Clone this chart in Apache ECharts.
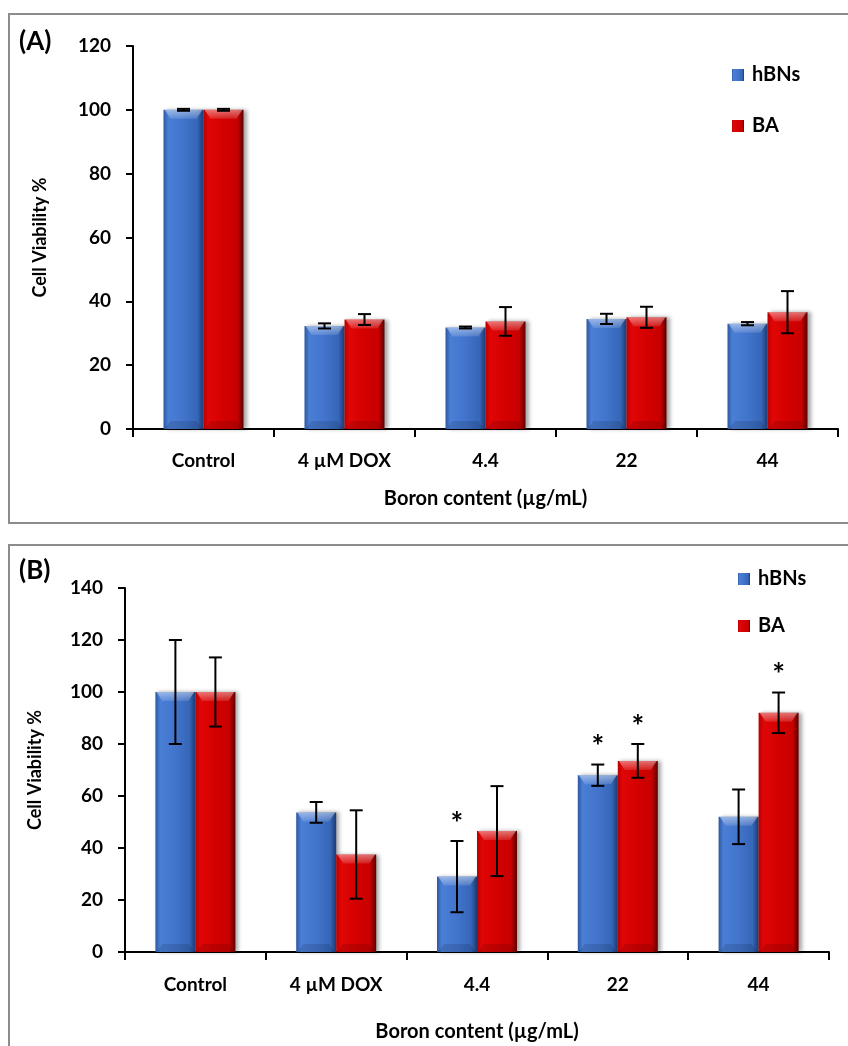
<!DOCTYPE html>
<html><head><meta charset="utf-8">
<script src="https://cdn.jsdelivr.net/npm/echarts@6/dist/echarts.min.js"></script>
<style>html,body{margin:0;padding:0;background:#fff}#c{width:848px;height:1046px}</style>
</head><body><div id="c"></div>
<script>
const categories = ['Control', '4 µM DOX', '4.4', '22', '44'];
const seriesNames = ['hBNs', 'BA'];

const A_hBNs = [100, 32.3, 31.8, 34.5, 33.0];
const A_hBNs_err = [0.3, 0.8, 0.3, 1.6, 0.5];
const A_BA = [100, 34.3, 33.7, 35.0, 36.6];
const A_BA_err = [0.3, 1.7, 4.5, 3.3, 6.6];

const B_hBNs = [100, 53.7, 29.0, 68.0, 52.0];
const B_hBNs_err = [20, 4.0, 13.7, 4.1, 10.5];
const B_BA = [100, 37.5, 46.5, 73.5, 92.0];
const B_BA_err = [13.3, 17.0, 17.3, 6.5, 7.8];
const B_hBNs_sig = [0, 0, 1, 1, 0];
const B_BA_sig = [0, 0, 0, 1, 1];

const FONT = 'Lato';
const BAR_W = 40;

const blueGrad = {type:'linear',x:0,y:0,x2:1,y2:0,colorStops:[
  {offset:0,color:'#2d58a0'},{offset:0.12,color:'#4a7fd6'},{offset:0.5,color:'#4274cc'},
  {offset:0.85,color:'#3566b8'},{offset:1,color:'#1c3a72'}]};
const redGrad = {type:'linear',x:0,y:0,x2:1,y2:0,colorStops:[
  {offset:0,color:'#b80000'},{offset:0.12,color:'#e00606'},{offset:0.5,color:'#d40000'},
  {offset:0.85,color:'#c80000'},{offset:1,color:'#5a0000'}]};
const colors = [blueGrad, redGrad];

function errData(vals, errs) { return vals.map((v, i) => [i, v, errs[i]]); }
function sigData(vals, errs, sig) { return vals.map((v, i) => sig[i] ? [i, v + errs[i]] : null).filter(d => d); }

function errSeries(gi, vals, errs, side) {
  return {
    type: 'custom', xAxisIndex: gi, yAxisIndex: gi, z: 10, silent: true,
    data: errData(vals, errs), encode: {x: 0, y: 1},
    renderItem: function (params, api) {
      const x = api.coord([api.value(0), 0])[0] + side * BAR_W / 2;
      const hi = api.coord([api.value(0), api.value(1) + api.value(2)])[1];
      const lo = api.coord([api.value(0), api.value(1) - api.value(2)])[1];
      const c = 6.5;
      const st = {stroke: '#000', lineWidth: 2};
      return {type: 'group', children: [
        {type: 'line', shape: {x1: x, y1: hi, x2: x, y2: lo}, style: st},
        {type: 'line', shape: {x1: x - c, y1: hi, x2: x + c, y2: hi}, style: st},
        {type: 'line', shape: {x1: x - c, y1: lo, x2: x + c, y2: lo}, style: st}
      ]};
    }
  };
}
function bevelSeries(gi, vals, side) {
  return {
    type: 'custom', xAxisIndex: gi, yAxisIndex: gi, z: 5, silent: true,
    data: vals.map((v, i) => [i, v]), encode: {x: 0, y: 1},
    renderItem: function (params, api) {
      const cx = api.coord([api.value(0), 0])[0] + side * BAR_W / 2;
      const top = api.coord([api.value(0), api.value(1)])[1];
      const base = api.coord([api.value(0), 0])[1];
      const l = cx - BAR_W / 2, r = cx + BAR_W / 2;
      return {type: 'group', children: [
        {type: 'polygon', shape: {points: [[l + 1, top], [r - 1, top], [r - 7, top + 9], [l + 7, top + 9]]},
         style: {fill: {type:'linear',x:0,y:0,x2:0,y2:1,colorStops:[
           {offset:0,color:'rgba(255,255,255,0.45)'},{offset:1,color:'rgba(255,255,255,0.12)'}]}}},
        {type: 'polygon', shape: {points: [[l + 1, base], [r - 1, base], [r - 7, base - 8], [l + 7, base - 8]]},
         style: {fill: 'rgba(0,0,0,0.12)'}}
      ]};
    }
  };
}
function sigSeries(gi, data, side) {
  return {
    type: 'custom', xAxisIndex: gi, yAxisIndex: gi, z: 11, silent: true,
    data: data, encode: {x: 0, y: 1},
    renderItem: function (params, api) {
      const p = api.coord([api.value(0), api.value(1)]);
      return {type: 'text', style: {text: '*', x: p[0] + side * BAR_W / 2, y: p[1] - 17,
        align: 'center', verticalAlign: 'middle', font: 'bold 30px ' + FONT, fill: '#000'}};
    }
  };
}
function barSeries(gi, name, vals, ci) {
  return {
    type: 'bar', name: name, xAxisIndex: gi, yAxisIndex: gi, data: vals,
    barWidth: BAR_W, barGap: '0%',
    itemStyle: {color: colors[ci], shadowBlur: 4, shadowColor: 'rgba(0,0,0,0.35)', shadowOffsetX: 3, shadowOffsetY: 0}
  };
}

const axisLabel = {color: '#000', fontFamily: FONT, fontWeight: 'bold', fontSize: 19};
function xAxis(gi, gap, margin) {
  return {type: 'category', gridIndex: gi, data: categories,
    axisLine: {lineStyle: {color: '#000', width: 2}},
    axisTick: {show: true, length: 8, lineStyle: {color: '#000', width: 2}},
    axisLabel: Object.assign({margin: margin}, axisLabel),
    name: 'Boron content (µg/mL)', nameLocation: 'middle', nameGap: gap,
    nameTextStyle: {color: '#000', fontFamily: FONT, fontWeight: 'bold', fontSize: 20}};
}
function yAxis(gi, max, gap) {
  return {type: 'value', gridIndex: gi, min: 0, max: max, interval: 20,
    axisLine: {show: true, lineStyle: {color: '#000', width: 2}},
    axisTick: {show: true, length: 7, lineStyle: {color: '#000', width: 2}},
    splitLine: {show: false},
    axisLabel: Object.assign({margin: 22}, axisLabel),
    name: 'Cell Viability %', nameLocation: 'middle', nameGap: gap, nameRotate: 90,
    nameTextStyle: {color: '#000', fontFamily: FONT, fontWeight: 'bold', fontSize: 18}};
}
function legend(top, gap, left) {
  return {orient: 'vertical', left: left, top: top, itemGap: gap, itemWidth: 12, itemHeight: 12,
    icon: 'rect', data: seriesNames,
    textStyle: {color: '#000', fontFamily: FONT, fontWeight: 'bold', fontSize: 20, lineHeight: 22, padding: [0, 0, 0, 3]}};
}

const chart = echarts.init(document.getElementById('c'), null, {renderer: 'canvas'});
chart.setOption({
  animation: false,
  backgroundColor: '#fff',
  graphic: [
    {type: 'rect', shape: {x: 9, y: 14, width: 860, height: 509}, style: {fill: 'none', stroke: '#8c8c8c', lineWidth: 2}, z: -1},
    {type: 'rect', shape: {x: 9, y: 545, width: 860, height: 540}, style: {fill: 'none', stroke: '#8c8c8c', lineWidth: 2}, z: -1},
    {type: 'text', left: 19, top: 29, style: {text: '(A)', font: 'bold 26px ' + FONT, fill: '#000'}},
    {type: 'text', left: 19, top: 558, style: {text: '(B)', font: 'bold 26px ' + FONT, fill: '#000'}}
  ],
  legend: [legend(59, 29, 727), legend(563, 25, 733)],
  grid: [
    {left: 133, right: 10, top: 46, height: 383},
    {left: 125, right: 19, top: 588, height: 364}
  ],
  xAxis: [xAxis(0, 60, 22), xAxis(1, 70, 23)],
  yAxis: [yAxis(0, 120, 84), yAxis(1, 140, 81)],
  series: [
    barSeries(0, 'hBNs', A_hBNs, 0),
    barSeries(0, 'BA', A_BA, 1),
    bevelSeries(0, A_hBNs, -1),
    bevelSeries(0, A_BA, 1),
    errSeries(0, A_hBNs, A_hBNs_err, -1),
    errSeries(0, A_BA, A_BA_err, 1),
    barSeries(1, 'hBNs', B_hBNs, 0),
    barSeries(1, 'BA', B_BA, 1),
    bevelSeries(1, B_hBNs, -1),
    bevelSeries(1, B_BA, 1),
    errSeries(1, B_hBNs, B_hBNs_err, -1),
    errSeries(1, B_BA, B_BA_err, 1),
    sigSeries(1, sigData(B_hBNs, B_hBNs_err, B_hBNs_sig), -1),
    sigSeries(1, sigData(B_BA, B_BA_err, B_BA_sig), 1)
  ]
});
</script></body></html>
